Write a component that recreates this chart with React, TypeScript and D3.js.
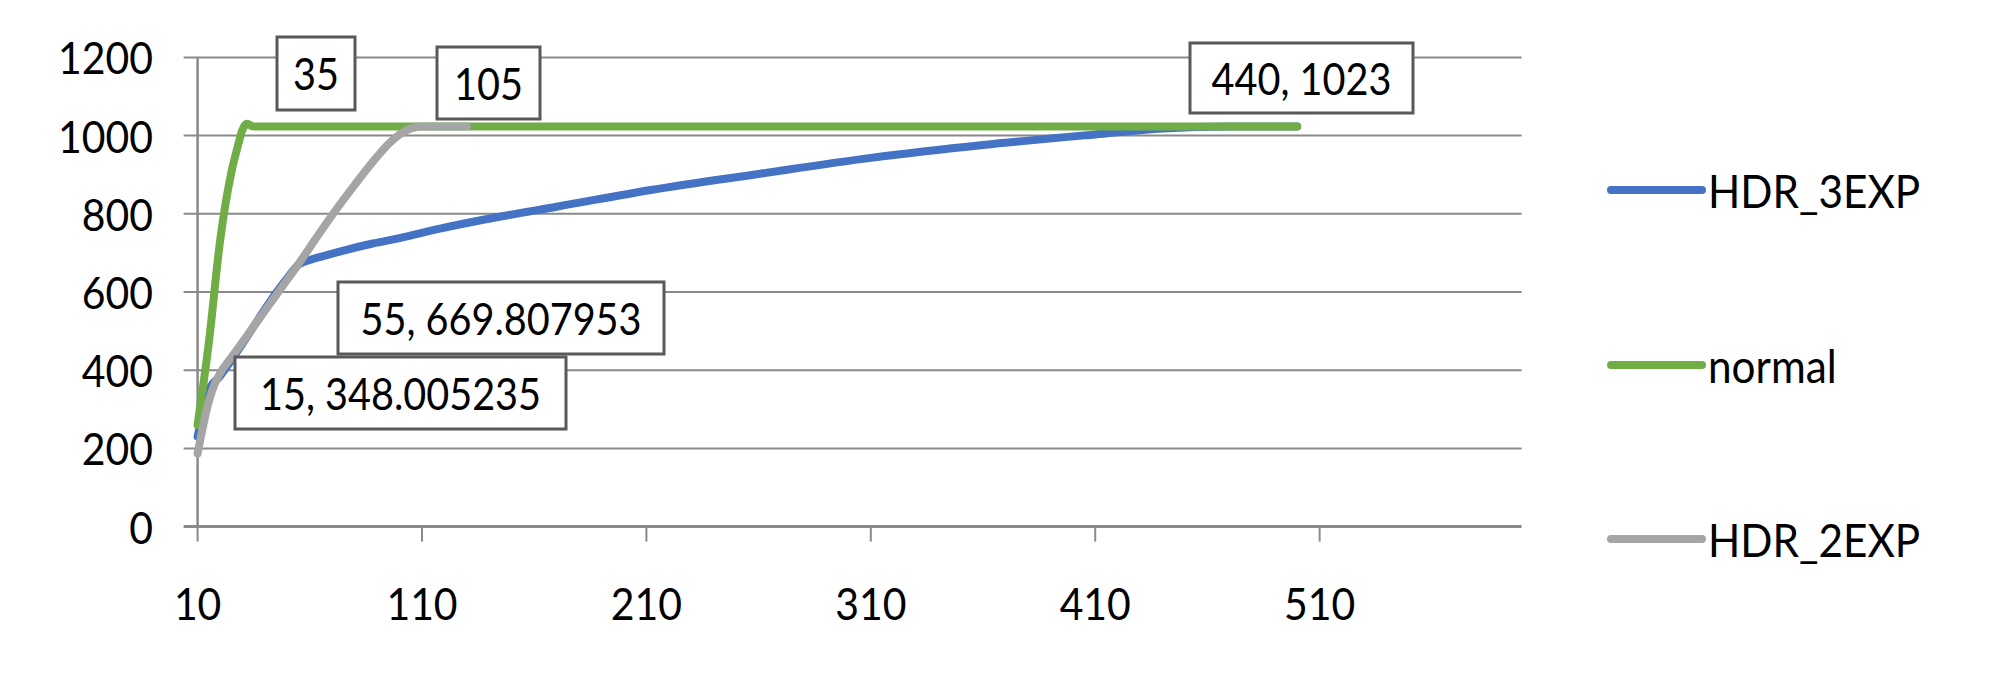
import React from "react";
import * as d3 from "d3";

// ---- data ----
const xTicks = [10, 110, 210, 310, 410, 510];
const yTicks = [0, 200, 400, 600, 800, 1000, 1200];

const seriesNames = ["HDR_3EXP", "normal", "HDR_2EXP"];

const hdr3ExpX = [10, 15, 20, 25, 30, 35, 40, 45, 50, 55, 60, 66, 75, 88, 100, 118, 145, 170, 212, 260, 310, 360, 410, 440, 470, 500];
const hdr3ExpY = [230, 348, 385, 425, 468, 512, 556, 598, 636, 670, 682, 692, 706, 724, 738, 762, 793, 818, 861, 902, 943, 976, 1003, 1018, 1023, 1023];

const normalX = [10, 15, 20, 25, 28, 30, 32, 35, 500];
const normalY = [260, 470, 730, 905, 975, 1015, 1030, 1023, 1023];

const hdr2ExpX = [10, 15, 18, 20, 25, 30, 35, 40, 45, 50, 55, 60, 70, 80, 90, 95, 100, 105, 110, 130];
const hdr2ExpY = [187, 320, 370, 392, 432, 472, 512, 552, 592, 632, 672, 714, 797, 874, 946, 978, 1003, 1018, 1023, 1023];

const labelTexts = ["35", "105", "440, 1023", "55, 669.807953", "15, 348.005235"];

// ---- layout / style ----
const W = 1999;
const H = 694;
const plot = { left: 197.6, right: 1521.6, top: 57.4, bottom: 526.6 };
const colors = ["#4472C4", "#70AD47", "#A5A5A5"];
const FONT = "Lato, 'Open Sans', sans-serif";
const labelBoxes = [
  [277, 37, 355, 110],
  [437, 47, 540, 119],
  [1190, 43, 1413, 113],
  [338, 282, 664, 354],
  [235, 357, 566, 429],
];
const legendY = [190, 365, 539];
const LINE_W = 8;

function SText(props: { x: number; y: number; sx: number; size: number; anchor: string; children: React.ReactNode }) {
  return (
    <text
      transform={`translate(${props.x},${props.y}) scale(${props.sx},1)`}
      textAnchor={props.anchor as any}
      dominantBaseline="central"
      fontSize={props.size}
      fill="#000"
    >
      {props.children}
    </text>
  );
}

export default function App() {
  const x = d3.scaleLinear().domain([10, 600]).range([plot.left, plot.right]);
  const y = d3.scaleLinear().domain([0, 1200]).range([plot.bottom, plot.top]);
  const line = d3
    .line<[number, number]>()
    .x((d) => x(d[0]))
    .y((d) => y(d[1]))
    .curve(d3.curveMonotoneX);

  const series = [
    d3.zip(hdr3ExpX, hdr3ExpY) as [number, number][],
    d3.zip(normalX, normalY) as [number, number][],
    d3.zip(hdr2ExpX, hdr2ExpY) as [number, number][],
  ];

  return (
    <svg
      width={W}
      height={H}
      style={{ position: "absolute", left: 0, top: 0, background: "#fff" }}
      fontFamily={FONT}
    >
      <rect x={0} y={0} width={W} height={H} fill="#fff" />
      {yTicks.map((t) => (
        <line
          key={"g" + t}
          x1={plot.left - 14}
          x2={plot.right}
          y1={y(t)}
          y2={y(t)}
          stroke="#8a8a8a"
          strokeWidth={t === 0 ? 3 : 2}
        />
      ))}
      <line x1={plot.left} x2={plot.left} y1={plot.top} y2={plot.bottom} stroke="#8a8a8a" strokeWidth={2.5} />
      {xTicks.map((t) => (
        <line key={"xt" + t} x1={x(t)} x2={x(t)} y1={plot.bottom} y2={plot.bottom + 15} stroke="#8a8a8a" strokeWidth={2} />
      ))}
      {yTicks.map((t) => (
        <SText key={"yl" + t} x={153} y={y(t)} sx={0.93} size={44} anchor="end">
          {t}
        </SText>
      ))}
      {xTicks.map((t) => (
        <SText key={"xl" + t} x={x(t)} y={603} sx={0.93} size={44} anchor="middle">
          {t}
        </SText>
      ))}
      {series.map((s, i) => (
        <path
          key={"s" + i}
          d={line(s) || ""}
          fill="none"
          stroke={colors[i]}
          strokeWidth={LINE_W}
          strokeLinecap="round"
          strokeLinejoin="round"
        />
      ))}
      {labelTexts.map((txt, i) => {
        const [x0, y0, x1, y1] = labelBoxes[i];
        return (
          <g key={"lb" + i}>
            <rect x={x0} y={y0} width={x1 - x0} height={y1 - y0} fill="#fff" stroke="#595959" strokeWidth={3} />
            <SText x={(x0 + x1) / 2} y={(y0 + y1) / 2} sx={0.9} size={44} anchor="middle">
              {txt}
            </SText>
          </g>
        );
      })}
      {seriesNames.map((n, i) => (
        <g key={"lg" + i}>
          <line x1={1611} x2={1702} y1={legendY[i]} y2={legendY[i]} stroke={colors[i]} strokeWidth={LINE_W} strokeLinecap="round" />
          <SText x={1708} y={legendY[i]} sx={0.92} size={46} anchor="start">
            {n}
          </SText>
        </g>
      ))}
    </svg>
  );
}
